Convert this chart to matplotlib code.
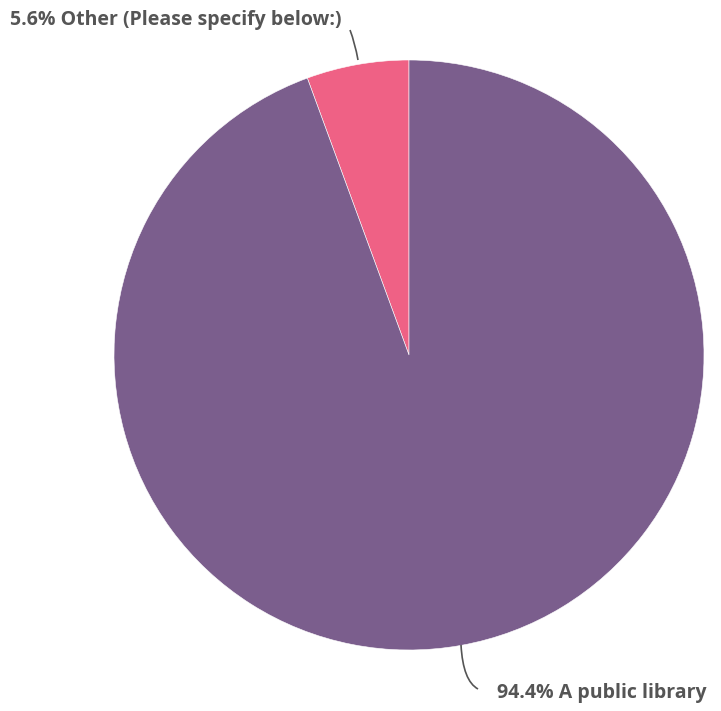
import matplotlib.pyplot as plt
from matplotlib.path import Path
from matplotlib.patches import PathPatch

labels = ['Other (Please specify below:)', 'A public library']
shares = [5.6, 94.4]
colors = ['#ef6185', '#7b5e8d']

fig = plt.figure(figsize=(7.21, 7.11), dpi=100)
ax = fig.add_axes([0, 0, 1, 1])

cx, cy, r = 409, 356, 295
ax.pie(shares, colors=colors, startangle=90, counterclock=True,
       center=(cx, cy), radius=r, frame=True,
       wedgeprops={'edgecolor': 'white', 'linewidth': 0.4})
ax.set_xlim(0, 721)
ax.set_ylim(0, 711)
ax.set_aspect('equal')
ax.axis('off')

txt = dict(fontsize=14, fontweight='bold', color='#555555', family=['Open Sans', 'DejaVu Sans'])

# leader lines
def leader(pts):
    p = Path(pts, [Path.MOVETO, Path.CURVE3, Path.CURVE3])
    ax.add_patch(PathPatch(p, fill=False, edgecolor='#555555', lw=1.2))

leader([(358, 651), (355, 668), (350, 681)])
ax.text(10, 691, f'{shares[0]}% {labels[0]}', ha='left', va='center', **txt)

leader([(461, 66), (463, 30), (478, 22)])
ax.text(497, 18, f'{shares[1]}% {labels[1]}', ha='left', va='center', **txt)

fig.savefig('out.png', dpi=100)
